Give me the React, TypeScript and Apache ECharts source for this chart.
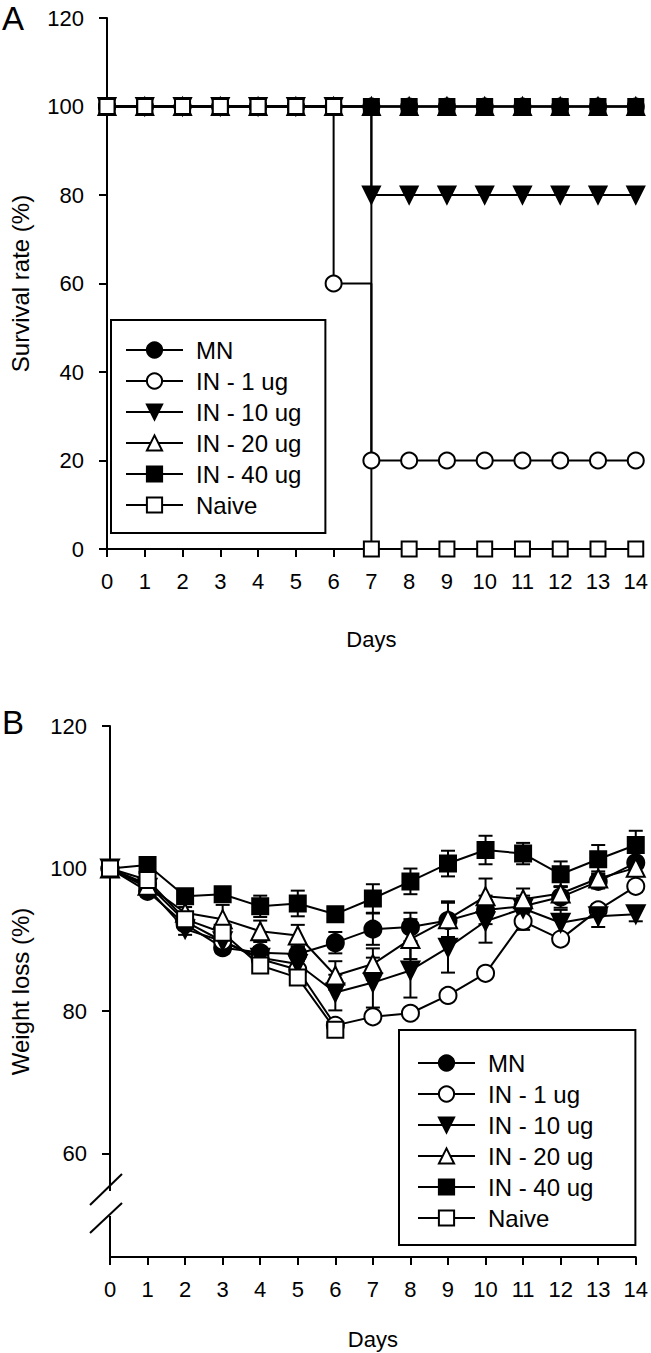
import React, { useEffect, useRef } from "react";
import * as echarts from "echarts";

// ---------- data ----------
const days = [0, 1, 2, 3, 4, 5, 6, 7, 8, 9, 10, 11, 12, 13, 14];
const seriesNames = ["MN", "IN - 1 ug", "IN - 10 ug", "IN - 20 ug", "IN - 40 ug", "Naive"];

// Panel A: survival rate (%)
const survMN = [100, 100, 100, 100, 100, 100, 100, 100, 100, 100, 100, 100, 100, 100, 100];
const survIN1 = [100, 100, 100, 100, 100, 100, 60, 20, 20, 20, 20, 20, 20, 20, 20];
const survIN10 = [100, 100, 100, 100, 100, 100, 100, 80, 80, 80, 80, 80, 80, 80, 80];
const survIN20 = [100, 100, 100, 100, 100, 100, 100, 100, 100, 100, 100, 100, 100, 100, 100];
const survIN40 = [100, 100, 100, 100, 100, 100, 100, 100, 100, 100, 100, 100, 100, 100, 100];
const survNaive = [100, 100, 100, 100, 100, 100, 100, 0, 0, 0, 0, 0, 0, 0, 0];

// Panel B: weight (%) with error bars
const wMN = [100, 96.8, 92.2, 88.9, 88.2, 88.0, 89.6, 91.5, 91.8, 92.7, 94.2, 94.7, 96.0, 98.2, 100.8];
const wIN1 = [100, 97.8, 92.6, 89.8, 87.3, 85.8, 78.0, 79.2, 79.7, 82.2, 85.3, 92.6, 90.1, 94.2, 97.5];
const wIN10 = [100, 97.3, 91.5, 89.8, 87.5, 86.6, 82.6, 84.0, 85.7, 88.9, 92.6, 94.4, 92.4, 93.3, 93.6];
const wIN20 = [100, 97.6, 93.8, 92.9, 91.2, 90.6, 85.0, 86.6, 90.1, 92.9, 96.1, 95.7, 96.5, 98.6, 100.1];
const wIN40 = [100, 100.5, 96.1, 96.4, 94.7, 95.1, 93.6, 95.8, 98.2, 100.7, 102.6, 102.1, 99.2, 101.3, 103.3];
const wNaive = [100, 98.4, 92.9, 91.0, 86.4, 84.7, 77.4];

const eMN = [0, 0.8, 0.8, 0.8, 0.8, 1.0, 1.5, 2.2, 2.0, 2.5, 2.0, 1.5, 1.5, 1.0, 1.5];
const eIN1 = [0, 0.5, 0.5, 0.5, 0.5, 0.5, 0.5, 0.5, 0.5, 0.5, 0.5, 1.2, 0.5, 0.8, 0.8];
const eIN10 = [0, 0.5, 0.8, 1.0, 1.0, 1.0, 2.5, 3.5, 3.8, 3.5, 3.0, 1.5, 1.8, 1.5, 1.0];
const eIN20 = [0, 0.8, 0.8, 2.0, 1.5, 1.5, 2.0, 2.2, 2.8, 2.5, 2.5, 1.5, 1.0, 1.0, 1.0];
const eIN40 = [0, 0.5, 0.5, 0.5, 1.5, 1.8, 1.0, 2.0, 1.8, 1.8, 2.0, 1.5, 1.8, 2.0, 2.0];
const eNaive = [0, 0.5, 0.5, 0.8, 0.8, 0.8, 1.0];

const survivalTicks = [0, 20, 40, 60, 80, 100, 120];
const weightTicks = [60, 80, 100, 120];

const survData = [survMN, survIN1, survIN10, survIN20, survIN40, survNaive];
const weightData = [wMN, wIN1, wIN10, wIN20, wIN40, wNaive];
const errData = [eMN, eIN1, eIN10, eIN20, eIN40, eNaive];

// ---------- styles ----------
const FONT = "'Liberation Sans', Arial, Helvetica, sans-serif";
const markerStyles = [
  { symbol: "circle", rotate: 0, filled: true, size: 16 },
  { symbol: "circle", rotate: 0, filled: false, size: 16 },
  { symbol: "triangle", rotate: 180, filled: true, size: 17 },
  { symbol: "triangle", rotate: 0, filled: false, size: 17 },
  { symbol: "rect", rotate: 0, filled: true, size: 15 },
  { symbol: "rect", rotate: 0, filled: false, size: 15 },
];

function lineSeries(i: number, grid: number, values: number[], step: boolean) {
  const m = markerStyles[i];
  const s = grid === 1 ? m.size + 1 : m.size;
  return {
    type: "line",
    name: seriesNames[i],
    xAxisIndex: grid,
    yAxisIndex: grid,
    data: values.map((v, k) => [days[k], v]),
    step: step ? "end" : false,
    symbol: m.symbol,
    symbolSize: s,
    symbolRotate: m.rotate,
    showSymbol: true,
    lineStyle: { color: "#000", width: 2 },
    itemStyle: { color: m.filled ? "#000" : "#fff", borderColor: "#000", borderWidth: 2 },
    z: 3,
    silent: true,
  };
}

function errSeries(i: number) {
  const vals = weightData[i];
  const errs = errData[i];
  return {
    type: "custom",
    name: seriesNames[i] + " err",
    xAxisIndex: 1,
    yAxisIndex: 1,
    data: vals.map((v, k) => [days[k], v, errs[k]]),
    encode: { x: 0, y: 1 },
    z: 2,
    silent: true,
    renderItem: (params: any, api: any) => {
      const x = api.value(0);
      const y = api.value(1);
      const e = api.value(2);
      if (!e) return { type: "group", children: [] };
      const p1 = api.coord([x, y + e]);
      const p2 = api.coord([x, y - e]);
      const w = 7;
      const st = { stroke: "#000", lineWidth: 2 };
      return {
        type: "group",
        children: [
          { type: "line", shape: { x1: p1[0], y1: p1[1], x2: p2[0], y2: p2[1] }, style: st },
          { type: "line", shape: { x1: p1[0] - w, y1: p1[1], x2: p1[0] + w, y2: p1[1] }, style: st },
          { type: "line", shape: { x1: p2[0] - w, y1: p2[1], x2: p2[0] + w, y2: p2[1] }, style: st },
        ],
      };
    },
  };
}

const axisLine = { show: true, lineStyle: { color: "#000", width: 2 } };
const axisTick = { show: true, inside: false, length: 8, lineStyle: { color: "#000", width: 2 } };
const labelStyle = { color: "#000", fontSize: 22, fontFamily: FONT };

function xAxis(grid: number, gap: number) {
  return {
    type: "value",
    gridIndex: grid,
    min: 0,
    max: 14,
    interval: 1,
    name: "Days",
    nameLocation: "middle",
    nameGap: gap,
    nameTextStyle: { color: "#000", fontSize: 22, fontFamily: FONT },
    axisLine,
    axisTick,
    axisLabel: { ...labelStyle, margin: 21 },
    splitLine: { show: false },
  };
}

function legend(left: number, top: number, pad: number[]) {
  return {
    data: seriesNames,
    orient: "vertical",
    left,
    top,
    itemWidth: 57,
    itemHeight: 19,
    itemGap: 7,
    padding: pad,
    borderColor: "#000",
    borderWidth: 2,
    selectedMode: false,
    textStyle: { color: "#000", fontSize: 24, fontFamily: FONT, lineHeight: 24, padding: [0, 0, 0, 8] },
  };
}

export default function App() {
  const ref = useRef<HTMLDivElement>(null);
  useEffect(() => {
    document.body.style.margin = "0";
    const chart = echarts.init(ref.current!, null, { renderer: "svg" });
    const series: any[] = [];
    for (let i = 0; i < 6; i++) series.push(lineSeries(i, 0, survData[i], true));
    for (let i = 0; i < 6; i++) {
      series.push(errSeries(i));
      series.push(lineSeries(i, 1, weightData[i], false));
    }
    chart.setOption({
      animation: false,
      backgroundColor: "#fff",
      grid: [
        { left: 106, right: 13.5, top: 18, height: 531 },
        { left: 106, right: 13.5, top: 726, height: 531 },
      ],
      xAxis: [xAxis(0, 79), xAxis(1, 71)],
      yAxis: [
        {
          type: "value",
          gridIndex: 0,
          min: 0,
          max: 120,
          interval: 20,
          name: "Survival rate (%)",
          nameLocation: "middle",
          nameGap: 75,
          nameTextStyle: { color: "#000", fontSize: 24, fontFamily: FONT },
          axisLine,
          axisTick,
          axisLabel: { ...labelStyle, margin: 23, customValues: survivalTicks },
          splitLine: { show: false },
        },
        {
          type: "value",
          gridIndex: 1,
          min: 45.5,
          max: 120,
          name: "Weight loss (%)",
          nameLocation: "middle",
          nameGap: 78,
          nameTextStyle: { color: "#000", fontSize: 24, fontFamily: FONT },
          axisLine,
          axisTick: { ...axisTick, customValues: weightTicks },
          axisLabel: { ...labelStyle, margin: 23, customValues: weightTicks },
          splitLine: { show: false },
        },
      ],
      legend: [legend(111, 320, [18, 24, 16, 14]), legend(399, 1030, [21, 42, 15, 18])],
      graphic: [
        { type: "text", left: 2, top: 2, z: 100, style: { text: "A", fontSize: 33, fill: "#000", fontFamily: FONT } },
        { type: "text", left: 2, top: 706, z: 100, style: { text: "B", fontSize: 33, fill: "#000", fontFamily: FONT } },
        { type: "rect", z: 100, shape: { x: 99, y: 1191, width: 14, height: 25 }, style: { fill: "#fff" } },
        { type: "line", z: 101, shape: { x1: 90, y1: 1205, x2: 122, y2: 1174 }, style: { stroke: "#000", lineWidth: 2 } },
        { type: "line", z: 101, shape: { x1: 90, y1: 1233, x2: 122, y2: 1203 }, style: { stroke: "#000", lineWidth: 2 } },
      ],
      series,
    });
    return () => chart.dispose();
  }, []);
  return <div ref={ref} style={{ position: "absolute", left: 0, top: 0, width: 651, height: 1353 }} />;
}
